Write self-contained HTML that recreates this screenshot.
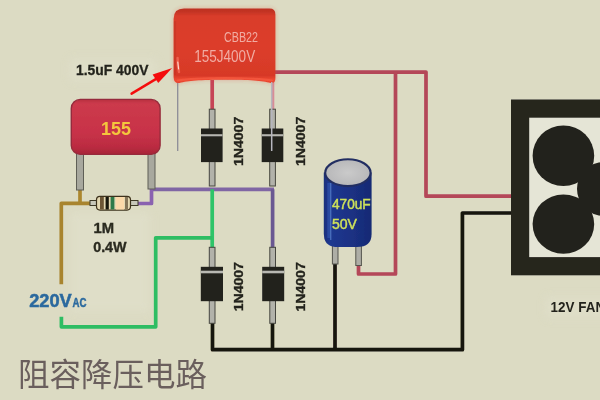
<!DOCTYPE html>
<html><head><meta charset="utf-8"><title>RC dropper circuit</title>
<style>
html,body{margin:0;padding:0;background:#dcdbc3;}
body{width:600px;height:400px;overflow:hidden;font-family:"Liberation Sans",sans-serif;}
svg{display:block}
text{font-family:"Liberation Sans",sans-serif;font-weight:bold}
</style></head><body>
<svg width="600" height="400" viewBox="0 0 600 400">
<defs>
<linearGradient id="gcap" x1="0" y1="0" x2="0" y2="1">
<stop offset="0" stop-color="#bd3122"/><stop offset="0.045" stop-color="#c43424"/><stop offset="0.1" stop-color="#d93c2a"/><stop offset="0.5" stop-color="#dc3e2b"/><stop offset="0.9" stop-color="#d73927"/><stop offset="0.95" stop-color="#ec4831"/><stop offset="1" stop-color="#e8442e"/>
</linearGradient>
<linearGradient id="g155" x1="0" y1="0" x2="0" y2="1">
<stop offset="0" stop-color="#b8303f"/><stop offset="0.08" stop-color="#cc3a4c"/><stop offset="0.6" stop-color="#c83248"/><stop offset="0.85" stop-color="#bc2c42"/><stop offset="1" stop-color="#a82638"/>
</linearGradient>
<linearGradient id="gel" x1="0" y1="0" x2="1" y2="0">
<stop offset="0" stop-color="#1a2f7c"/><stop offset="0.12" stop-color="#1f3890"/><stop offset="0.5" stop-color="#1c3286"/><stop offset="1" stop-color="#162a74"/>
</linearGradient>
<radialGradient id="gtop" cx="0.5" cy="0.5" r="0.6"><stop offset="0" stop-color="#cacaca"/><stop offset="1" stop-color="#b4b4b6"/></radialGradient>
<filter id="b0" x="-5%" y="-5%" width="110%" height="110%"><feGaussianBlur stdDeviation="0.35"/></filter>
<filter id="b1" x="-5%" y="-5%" width="110%" height="110%"><feGaussianBlur stdDeviation="0.62"/></filter>
<filter id="b3" x="-10%" y="-10%" width="120%" height="120%"><feGaussianBlur stdDeviation="2.2"/></filter>
<filter id="b4" x="-20%" y="-20%" width="140%" height="140%"><feGaussianBlur stdDeviation="4"/></filter>
<filter id="b2" x="-5%" y="-5%" width="110%" height="110%"><feGaussianBlur stdDeviation="0.7"/></filter>
</defs>
<rect width="600" height="400" fill="#dcdbc3"/>

<g filter="url(#b1)">
<g fill="#e0dfca" filter="url(#b4)" opacity="0.75">
<rect x="546" y="297" width="64" height="21"/>
<rect x="70" y="59" width="86" height="22"/>
<rect x="70" y="212" width="80" height="100"/>
</g>
<!-- WIRES -->
<g fill="none" stroke-width="3.7" stroke-linejoin="round">
<!-- red -->
<path d="M274 72.1 H426 V196.2 H512" stroke="#b44658"/>
<path d="M395.5 72.1 V274 H358.5 V264" stroke="#b44658"/>
<path d="M212.2 80 V111" stroke="#c64457"/>
<path d="M273.1 80 V110" stroke="#d88c96" stroke-width="2.4"/>
<!-- purple -->
<path d="M151.5 186 V189.3 H274" stroke="#8066a4"/>
<path d="M151.5 189.3 V203.5 H136" stroke="#8a62b0"/>
<path d="M272.6 189.3 V250" stroke="#6a5892"/>
<!-- brown -->
<path d="M80 188 V203.3" stroke="#ac872e"/>
<path d="M92 203.3 H61.3 V284.2" stroke="#a8842f"/>
<!-- green -->
<path d="M212.2 189.3 V250" stroke="#2ec468"/>
<path d="M61.4 316.8 V326.8 H155.7 V237.8 H212.2" stroke="#2fbd63"/>
<!-- black -->
<path d="M212.5 320 V349.7 H462.4 V213 H512" stroke="#15140e"/>
<path d="M272.5 320 V349.7" stroke="#15140e"/>
<path d="M335 263 V349.7" stroke="#15140e"/>
</g>

<!-- CBB22 capacitor thin leads -->
<path d="M177.7 80 V151" stroke="#8c8c98" stroke-width="1.3" fill="none"/>


<!-- CBB22 capacitor -->
<path d="M184 8.6 H269.5 Q275.4 8.6 275.4 14.5 V78 Q275.6 83.6 270.5 82.9 C262 80.6 250 79.7 225 79.7 C200 79.7 188 80.6 179.5 82.9 Q173.8 83.8 173.6 77 V19 Q173.6 8.6 184 8.6 Z" fill="#e05040" opacity="0.35" filter="url(#b3)"/>
<path d="M184 8.6 H269.5 Q275.4 8.6 275.4 14.5 V78 Q275.6 83.6 270.5 82.9 C262 80.6 250 79.7 225 79.7 C200 79.7 188 80.6 179.5 82.9 Q173.8 83.8 173.6 77 V19 Q173.6 8.6 184 8.6 Z" fill="url(#gcap)"/>
<path d="M177.5 80.6 C188 78.6 200 77.9 225 77.9 C250 77.9 262 78.6 272 80.6" stroke="#f4583e" stroke-width="2" stroke-linecap="round" fill="none" opacity="0.85"/>
<path d="M175 22 V74" stroke="#c43323" stroke-width="2.2" stroke-linecap="round" fill="none" opacity="0.6"/>
<path d="M177.6 58 Q177.6 66 179 72" stroke="#f46a58" stroke-width="2.4" stroke-linecap="round" fill="none" opacity="0.8"/>
<path d="M177.8 62 L178.6 69" stroke="#ffe4dc" stroke-width="1.1" stroke-linecap="round" fill="none" opacity="0.9"/>

<!-- 155 capacitor -->
<g>
<rect x="76.5" y="152" width="7" height="38" fill="#a8a89e" stroke="#5e5e56" stroke-width="1"/>
<rect x="148" y="152" width="7" height="37" fill="#a8a89e" stroke="#5e5e56" stroke-width="1"/>
<rect x="71.3" y="99.4" width="88.8" height="55" rx="9" ry="9" fill="url(#g155)" stroke="#962c3c" stroke-width="1.4"/>
</g>

<!-- resistor -->
<g>
<rect x="90" y="200.5" width="8" height="5" fill="#c8c8ba" stroke="#3c3828" stroke-width="1"/>
<rect x="130" y="200.5" width="8" height="5" fill="#c8c8ba" stroke="#3c3828" stroke-width="1"/>
<rect x="96.5" y="196.3" width="34" height="13.8" rx="3.5" fill="#e3d8b2" stroke="#3e321c" stroke-width="1.2"/>
<rect x="100" y="197" width="3.8" height="12.5" fill="#6c5434"/>
<rect x="105.6" y="197" width="3.2" height="12.5" fill="#17130c"/>
<rect x="110.6" y="197" width="3.8" height="12.5" fill="#2e7a48"/>
<rect x="116" y="197" width="8" height="12.5" fill="#fbd9aa"/>
<rect x="125" y="197" width="3" height="12.5" fill="#847458"/>
</g>

<!-- diodes -->
<g id="d1">
<rect x="209.3" y="109.2" width="5.7" height="76.8" fill="#b2b2aa" stroke="#47473f" stroke-width="1"/>
<rect x="201" y="128.5" width="21.6" height="33.6" fill="#22221e"/>
<rect x="201" y="134.2" width="21.5" height="2.1" fill="#b6b6b0"/>
</g>
<g id="d2">
<rect x="269.7" y="109.2" width="5.7" height="76.8" fill="#b2b2aa" stroke="#47473f" stroke-width="1"/>
<rect x="261.7" y="128.5" width="21.6" height="33.6" fill="#22221e"/>
<rect x="261.8" y="134.2" width="21.5" height="2.1" fill="#b6b6b0"/>
</g>
<g id="d3">
<rect x="209.3" y="247.3" width="5.7" height="76" fill="#b2b2aa" stroke="#47473f" stroke-width="1"/>
<rect x="200.8" y="266.8" width="22.2" height="34.4" fill="#22221e"/>
<rect x="200.8" y="270.7" width="22.2" height="2.6" fill="#b8b8b2"/>
</g>
<g id="d4">
<rect x="269.8" y="247.3" width="5.7" height="76" fill="#b2b2aa" stroke="#47473f" stroke-width="1"/>
<rect x="262.2" y="266.8" width="22" height="34.4" fill="#22221e"/>
<rect x="262.2" y="270.7" width="22" height="2.6" fill="#b8b8b2"/>
</g>
<!-- thin lead of CBB cap over diode 2 -->
<path d="M271.7 82 V151" stroke="#b6b6be" stroke-width="1.5" fill="none"/>

<!-- electrolytic cap -->
<g>
<rect x="332.4" y="240" width="5.6" height="24" fill="#aeaea6" stroke="#55554e" stroke-width="1"/>
<rect x="355.8" y="240" width="5.6" height="25.5" fill="#aeaea6" stroke="#55554e" stroke-width="1"/>
<path d="M323.8 172.5 V234 Q323.8 247 338 247 H357 Q371.6 247 371.6 234 V172.5 Z" fill="url(#gel)"/>
<path d="M328.8 183 V238" stroke="#2c50a6" stroke-width="3" fill="none" opacity="0.8"/>
<path d="M330.8 183 V240" stroke="#5c88d2" stroke-width="1" fill="none" opacity="0.9"/>
<ellipse cx="347.9" cy="172.7" rx="22.7" ry="13.4" fill="url(#gtop)" stroke="#232f62" stroke-width="2.1"/>
</g>

<!-- fan -->
<g>
<rect x="520.1" y="108.6" width="100" height="157.6" fill="#e5e5d6" stroke="#27261f" stroke-width="18.2"/>
<ellipse cx="563.4" cy="155.8" rx="30.8" ry="30.3" fill="#23221c"/>
<ellipse cx="563.4" cy="224.1" rx="30.8" ry="29.7" fill="#23221c"/>
<circle cx="604" cy="189" r="27" fill="#23221c"/>
</g>

<!-- red arrow -->
<g>
<path d="M131.6 93.6 L157 78.4" stroke="#f41010" stroke-width="2.5" stroke-linecap="round" fill="none"/>
<path d="M172.2 68 L152.6 74.6 L158.2 82.9 Z" fill="#f41010"/>
</g>
</g>

<!-- TEXT -->
<g filter="url(#b1)">
<text x="76" y="74.5" font-size="15" fill="#24241c" stroke="#24241c" stroke-width="0.3" textLength="72.5" lengthAdjust="spacingAndGlyphs">1.5uF 400V</text>
<text x="101" y="135.3" font-size="19" fill="#f4c63e" textLength="30" lengthAdjust="spacingAndGlyphs">155</text>
<text x="93.6" y="233" font-size="14" fill="#2a2a20" stroke="#2a2a20" stroke-width="0.35" textLength="20.6" lengthAdjust="spacingAndGlyphs">1M</text>
<text x="93.2" y="252" font-size="14.2" fill="#2a2a20" stroke="#2a2a20" stroke-width="0.35" textLength="33.4" lengthAdjust="spacingAndGlyphs">0.4W</text>
<text x="29.2" y="307" font-size="18.6" fill="#2b699e" stroke="#2b699e" stroke-width="0.5" textLength="42.6" lengthAdjust="spacingAndGlyphs">220V</text>
<text x="72.4" y="307" font-size="12.4" fill="#2b699e" stroke="#2b699e" stroke-width="0.45" textLength="14" lengthAdjust="spacingAndGlyphs">AC</text>
<text transform="translate(243.2 166) rotate(-90)" font-size="13.5" fill="#24241c" stroke="#24241c" stroke-width="0.35" textLength="49.2" lengthAdjust="spacingAndGlyphs">1N4007</text>
<text transform="translate(305.2 166) rotate(-90)" font-size="13.5" fill="#24241c" stroke="#24241c" stroke-width="0.35" textLength="49.2" lengthAdjust="spacingAndGlyphs">1N4007</text>
<text transform="translate(242.9 311.3) rotate(-90)" font-size="13.5" fill="#24241c" stroke="#24241c" stroke-width="0.35" textLength="49.2" lengthAdjust="spacingAndGlyphs">1N4007</text>
<text transform="translate(305.2 311.5) rotate(-90)" font-size="13.5" fill="#24241c" stroke="#24241c" stroke-width="0.35" textLength="49.2" lengthAdjust="spacingAndGlyphs">1N4007</text>
<text x="332" y="208.6" font-size="14.3" fill="#cfe25a" stroke="#cfe25a" stroke-width="0.45" style="font-weight:normal" textLength="38.6" lengthAdjust="spacingAndGlyphs">470uF</text>
<text x="332" y="228.6" font-size="14.3" fill="#cfe25a" stroke="#cfe25a" stroke-width="0.45" style="font-weight:normal" textLength="25" lengthAdjust="spacingAndGlyphs">50V</text>
<text x="550.6" y="312" font-size="14" fill="#24241c" textLength="54.5" lengthAdjust="spacingAndGlyphs">12V FAN</text>
<text x="224" y="42" font-size="14.6" fill="#f4bcb4" fill-opacity="0.88" style="font-weight:normal" textLength="34" lengthAdjust="spacingAndGlyphs">CBB22</text>
<text x="194.2" y="62.3" font-size="16.4" fill="#f4bcb4" fill-opacity="0.88" style="font-weight:normal" textLength="61" lengthAdjust="spacingAndGlyphs">155J400V</text>
<!-- Chinese caption -->
</g>
<g filter="url(#b0)"><text x="18" y="386.3" font-size="31.5" fill="#6a5f5d" style="font-family:'Liberation Sans','Noto Sans CJK SC',sans-serif;font-weight:normal" textLength="189" lengthAdjust="spacingAndGlyphs">阻容降压电路</text>
</g>
</svg>
</body></html>
